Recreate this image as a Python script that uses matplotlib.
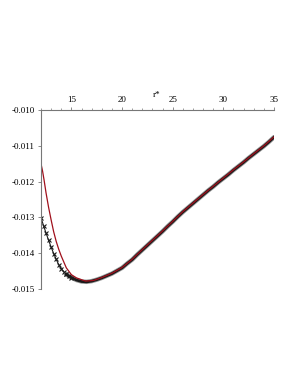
import numpy as np
import matplotlib.pyplot as plt

# red curve (model)
r_red = [12.0, 12.15, 12.3, 12.5, 12.75, 13.0, 13.25, 13.5, 13.75, 14.0, 14.5, 15.0,
         15.5, 16.4, 17.2, 18.0, 19.0, 20.0, 21.0, 22.0, 23.0, 24.0, 25.0, 26.0, 27.0,
         28.0, 29.0, 30.0, 31.0, 32.0, 33.0, 34.0, 35.0]
v_red = [-0.01150, -0.01170, -0.01195, -0.01232, -0.01272, -0.01307, -0.01340, -0.01367,
         -0.01389, -0.01408, -0.01441, -0.01460, -0.01469, -0.01478, -0.01476, -0.01468,
         -0.01456, -0.01440, -0.01417, -0.01390, -0.01364, -0.01338, -0.01311, -0.01284,
         -0.01260, -0.01236, -0.01213, -0.01190, -0.01167, -0.01145, -0.01122, -0.01100,
         -0.01075]

# black marker series (data)
r_blk = [12.0, 12.25, 12.5, 12.75, 13.0, 13.25, 13.5, 13.75, 14.0, 14.25, 14.5, 14.75,
         15.0, 15.5, 16.0, 16.5, 17.0, 17.5, 18.0, 18.5, 19.0, 19.5, 20.0, 20.5, 21.0,
         21.5, 22.0, 22.5, 23.0, 23.5, 24.0, 24.5, 25.0, 25.5, 26.0, 26.5, 27.0, 27.5,
         28.0, 28.5, 29.0, 29.5, 30.0, 30.5, 31.0, 31.5, 32.0, 32.5, 33.0, 33.5, 34.0,
         34.5, 35.0]
v_blk = [-0.01301, -0.01323, -0.01344, -0.01364, -0.01383, -0.01401, -0.01417, -0.01432,
         -0.01443, -0.01452, -0.01459, -0.01464, -0.01468, -0.01475, -0.01479, -0.01480,
         -0.01478, -0.01474, -0.01469, -0.01463, -0.01457, -0.01449, -0.01441, -0.01429,
         -0.01418, -0.01404, -0.01391, -0.01378, -0.01365, -0.01352, -0.01339, -0.01325,
         -0.01312, -0.01298, -0.01285, -0.01273, -0.01261, -0.01249, -0.01237, -0.01225,
         -0.01214, -0.01202, -0.01191, -0.01180, -0.01168, -0.01157, -0.01146, -0.01134,
         -0.01123, -0.01112, -0.01101, -0.01089, -0.01076]

x_ticks = [15, 20, 25, 30, 35]
y_ticks = [-0.015, -0.014, -0.013, -0.012, -0.011, -0.010]

plt.rcParams['font.family'] = ['Liberation Serif', 'DejaVu Serif']

fig = plt.figure(figsize=(2.98, 3.85), dpi=100)
ax = fig.add_axes([41/298, 1-289/385, 233/298, 179/385])

# data series: crosses on a thin line at the start, dense dark band afterwards
k = 10
ax.plot(r_blk[:k + 1], v_blk[:k + 1], color='#1a1a1a', lw=0.8, marker='x', ms=3, mew=0.8)
ax.plot(r_blk[k:], v_blk[k:], color='#999999', lw=3.2, solid_capstyle='round')
ax.plot(r_blk[k:], v_blk[k:], color='#1a1a1a', lw=2.0, marker='x', ms=3, mew=0.8,
        markevery=slice(0, 3))
# model curve
ax.plot(r_red, v_red, color='#a0101c', lw=0.9)

ax.set_xlim(12, 35)
ax.set_ylim(-0.015, -0.010)

# Maple style axes: left and top
ax.spines['right'].set_visible(False)
ax.spines['bottom'].set_visible(False)
for s in ['left', 'top']:
    ax.spines[s].set_color('#777777')
    ax.spines[s].set_linewidth(0.8)

ax.xaxis.tick_top()
ax.set_xticks(x_ticks)
ax.set_xticks(np.arange(12, 36, 1), minor=True)
ax.set_xticklabels([str(t) for t in x_ticks])
ax.set_yticks(y_ticks)
ax.set_yticklabels(['%.3f' % t for t in y_ticks])
ax.tick_params(axis='both', which='major', labelsize=6.5, length=2.5,
               width=0.6, color='#777777', pad=2)
ax.tick_params(axis='x', which='minor', length=1.5, width=0.5, color='#777777')

fig.text(157/298, 1-95/385, r'r*', fontsize=6.5, ha='center', va='center')

fig.savefig('out.png', dpi=100)
